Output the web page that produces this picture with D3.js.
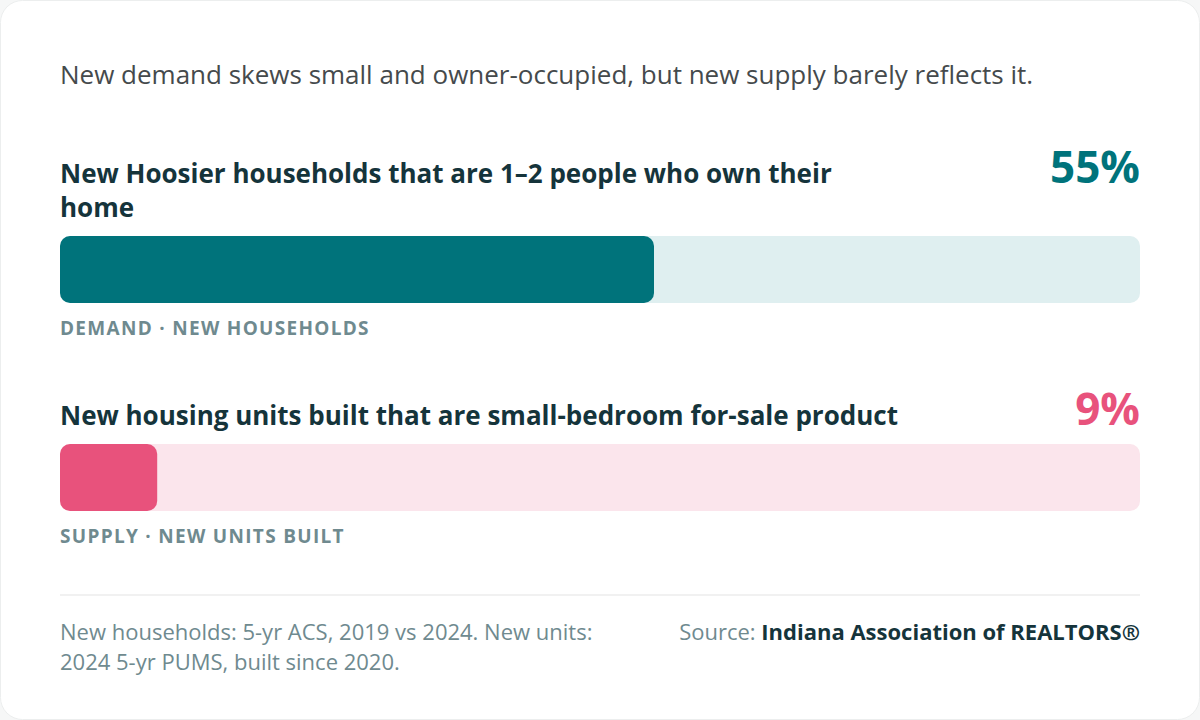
<!DOCTYPE html>
<html>
<head>
<meta charset="utf-8">
<script src="https://cdn.jsdelivr.net/npm/d3@7"></script>
<style>
  html, body { margin: 0; padding: 0; background: #f6f7f7; }
  svg { display: block; font-family: "Open Sans", sans-serif; }
</style>
</head>
<body>
<div id="chart"></div>
<script>
var subtitle = "New demand skews small and owner-occupied, but new supply barely reflects it.";
var labels   = ["New Hoosier households that are 1\u20132 people who own their home",
                "New housing units built that are small-bedroom for-sale product"];
var values   = [55, 9];
var tags     = ["DEMAND \u00b7 NEW HOUSEHOLDS", "SUPPLY \u00b7 NEW UNITS BUILT"];
var fills    = ["#00737b", "#e8527c"];
var tracks   = ["#dfeff0", "#fbe5ec"];
var notes    = ["New households: 5-yr ACS, 2019 vs 2024. New units:", "2024 5-yr PUMS, built since 2020."];
var source   = "Indiana Association of REALTORS\u00ae";

var W = 1200, H = 720,
    margin = {left: 60, right: 60};

var x = d3.scaleLinear().domain([0, 100]).range([margin.left, W - margin.right]);

var svg = d3.select("#chart").append("svg")
    .attr("width", W)
    .attr("height", H);

svg.append("rect")
    .attr("x", 0.5).attr("y", 0.5)
    .attr("width", W - 1).attr("height", H - 1)
    .attr("rx", 22)
    .attr("fill", "#fff")
    .attr("stroke", "#eceeee");

svg.append("text")
    .attr("x", margin.left).attr("y", 84)
    .attr("font-size", 26)
    .attr("fill", "#454a4c")
    .text(subtitle);

// each block: label, big number, track + bar, tag
var blockTop = [183, 425];   // label first-line baseline
var barY     = [236, 444];
var barH = 67;

function wrap(sel, maxW, lh) {
  sel.each(function() {
    var t = d3.select(this), words = t.text().split(" "), line = [],
        tsp = t.text(null).append("tspan").attr("x", t.attr("x"));
    words.forEach(function(w) {
      line.push(w);
      tsp.text(line.join(" "));
      if (tsp.node().getComputedTextLength() > maxW && line.length > 1) {
        line.pop();
        tsp.text(line.join(" "));
        line = [w];
        tsp = t.append("tspan").attr("x", t.attr("x")).attr("dy", lh).text(w);
      }
    });
  });
}

values.forEach(function(v, i) {
  var g = svg.append("g");

  g.append("text")
      .attr("x", margin.left).attr("y", blockTop[i])
      .attr("font-size", 26)
      .attr("font-weight", 700)
      .attr("fill", "#15343b")
      .text(labels[i])
      .call(wrap, 845, 34);

  g.append("text")
      .attr("x", x(100)).attr("y", blockTop[i])
      .attr("text-anchor", "end")
      .attr("font-size", 44)
      .attr("font-weight", 700)
      .attr("fill", fills[i])
      .text(v + "%");

  g.append("rect")
      .attr("x", x(0)).attr("y", barY[i])
      .attr("width", x(100) - x(0)).attr("height", barH)
      .attr("rx", 10)
      .attr("fill", tracks[i]);

  g.append("rect")
      .attr("x", x(0)).attr("y", barY[i])
      .attr("width", x(v) - x(0)).attr("height", barH)
      .attr("rx", 10)
      .attr("fill", fills[i]);

  g.append("text")
      .attr("x", margin.left).attr("y", barY[i] + barH + 32)
      .attr("font-size", 19)
      .attr("font-weight", 700)
      .attr("letter-spacing", 1.3)
      .attr("fill", "#6f8a8f")
      .text(tags[i]);
});

svg.append("line")
    .attr("x1", x(0)).attr("x2", x(100))
    .attr("y1", 595).attr("y2", 595)
    .attr("stroke", "#ececec")
    .attr("stroke-width", 1.5);

svg.selectAll(".note")
    .data(notes)
  .enter().append("text")
    .attr("class", "note")
    .attr("x", margin.left)
    .attr("y", function(d, i) { return 640 + i * 30; })
    .attr("font-size", 22)
    .attr("fill", "#6f8a8f")
    .text(function(d) { return d; });

var src = svg.append("text")
    .attr("x", x(100)).attr("y", 640)
    .attr("text-anchor", "end")
    .attr("font-size", 22);
src.append("tspan").attr("fill", "#6f8a8f").text("Source: ");
src.append("tspan").attr("fill", "#15343b").attr("font-weight", 700).text(source);
</script>
</body>
</html>
